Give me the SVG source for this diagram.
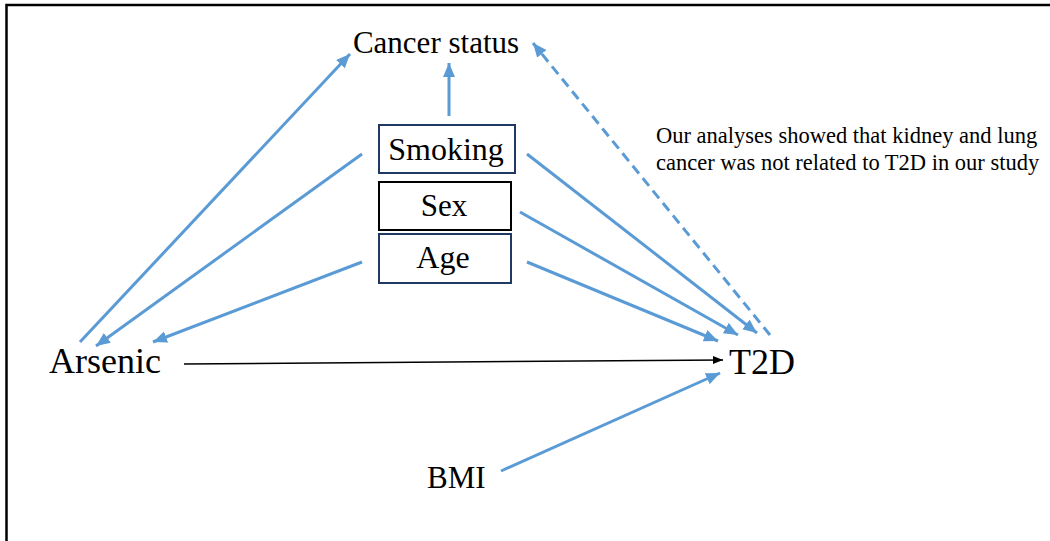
<svg xmlns="http://www.w3.org/2000/svg" width="1050" height="541" viewBox="0 0 1050 541">
  <style>
    .lbl { font-family: "Liberation Serif", "Times New Roman", serif; fill: #000; }
    .box { fill: #fff; stroke-width: 2; }
    .blue { stroke: #5b9bd5; stroke-width: 3; fill: none; }
    .dash { stroke-dasharray: 10 6; }
    .thin { stroke: #000; stroke-width: 1.5; fill: none; }
  </style>
  <defs>
    <marker id="headBlue" markerUnits="userSpaceOnUse" markerWidth="16" markerHeight="14" refX="14" refY="6" orient="auto">
      <path d="M0,0 L14,6 L0,12 Z" fill="#5b9bd5"/>
    </marker>
    <marker id="headBlack" markerUnits="userSpaceOnUse" markerWidth="12" markerHeight="10" refX="10" refY="4" orient="auto">
      <path d="M0,0 L10,4 L0,8 Z" fill="#000"/>
    </marker>
  </defs>

  <rect width="1050" height="541" fill="#fff"/>
  <!-- frame -->
  <path d="M6.5,541 L6.5,5 L1050,5" fill="none" stroke="#000" stroke-width="2.5"/>

  <g id="connectors">
    <line class="blue" x1="80" y1="342" x2="350" y2="54" marker-end="url(#headBlue)"/>
    <line class="blue" x1="449" y1="116" x2="449" y2="63" marker-end="url(#headBlue)"/>
    <line class="blue dash" x1="770" y1="335" x2="533" y2="43" marker-end="url(#headBlue)"/>
    <line class="blue" x1="362" y1="154" x2="96" y2="346" marker-end="url(#headBlue)"/>
    <line class="blue" x1="362" y1="262" x2="153" y2="342" marker-end="url(#headBlue)"/>
    <line class="blue" x1="527" y1="154" x2="757" y2="333" marker-end="url(#headBlue)"/>
    <line class="blue" x1="520" y1="212" x2="738" y2="335" marker-end="url(#headBlue)"/>
    <line class="blue" x1="527" y1="262" x2="718" y2="341" marker-end="url(#headBlue)"/>
    <line class="blue" x1="501" y1="471" x2="720" y2="373" marker-end="url(#headBlue)"/>
    <line class="thin" x1="184" y1="364" x2="723" y2="360" marker-end="url(#headBlack)"/>
  </g>

  <g id="cancer-status">
    <text class="lbl" x="436" y="53" font-size="31" text-anchor="middle">Cancer status</text>
  </g>
  <g id="smoking">
    <rect class="box" x="379" y="125" width="136" height="48" stroke="#1f3864"/>
    <text class="lbl" x="446" y="160" font-size="32" text-anchor="middle">Smoking</text>
  </g>
  <g id="sex">
    <rect class="box" x="379" y="182" width="132" height="48" stroke="#000"/>
    <text class="lbl" x="444" y="216" font-size="31" text-anchor="middle">Sex</text>
  </g>
  <g id="age">
    <rect class="box" x="379" y="234" width="132" height="49" stroke="#1f3864"/>
    <text class="lbl" x="443" y="268" font-size="32" text-anchor="middle">Age</text>
  </g>
  <g id="arsenic">
    <text class="lbl" x="49" y="373" font-size="36">Arsenic</text>
  </g>
  <g id="t2d">
    <text class="lbl" x="729" y="374" font-size="36">T2D</text>
  </g>
  <g id="bmi">
    <text class="lbl" x="427" y="488" font-size="31">BMI</text>
  </g>
  <g id="note">
    <text class="lbl" x="656" y="143" font-size="22.5">Our analyses showed that kidney and lung</text>
    <text class="lbl" x="656" y="170" font-size="22.5">cancer was not related to T2D in our study</text>
  </g>
</svg>
